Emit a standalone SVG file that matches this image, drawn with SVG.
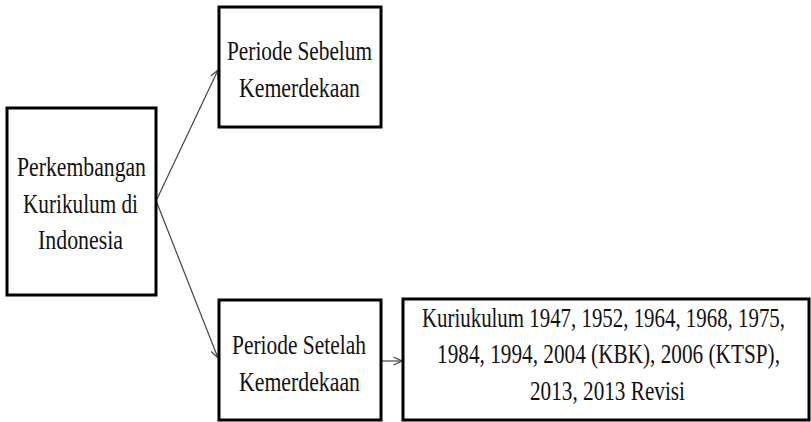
<svg xmlns="http://www.w3.org/2000/svg" width="811" height="422" viewBox="0 0 811 422">
<style>
.box{fill:#fff;stroke:#000;stroke-width:3}
.t{font-family:"Liberation Serif","Times New Roman",serif;font-size:28px;fill:#111}
.c{fill:none;stroke:#444;stroke-width:1.2}
</style>
<defs>
<marker id="ah" viewBox="0 0 10 10" refX="9.5" refY="5" markerWidth="10" markerHeight="10" markerUnits="userSpaceOnUse" orient="auto">
<path d="M1,1 L9.5,5 L1,9" fill="none" stroke="#444" stroke-width="1.2"/>
</marker>
</defs>
<rect width="811" height="422" fill="#fff"/>
<g id="connectors">
<line class="c" x1="157" y1="199" x2="218" y2="70" marker-end="url(#ah)"/>
<line class="c" x1="157" y1="203" x2="218" y2="358" marker-end="url(#ah)"/>
<line class="c" x1="382" y1="361" x2="402" y2="361" marker-end="url(#ah)"/>
</g>
<g id="node-perkembangan">
<rect class="box" x="7" y="108" width="149" height="187"/>
<text class="t" transform="translate(17,0) scale(0.76,1)" x="0" y="176" textLength="169.7" lengthAdjust="spacingAndGlyphs">Perkembangan</text>
<text class="t" transform="translate(23,0) scale(0.76,1)" x="0" y="213" textLength="151.3" lengthAdjust="spacingAndGlyphs">Kurikulum di</text>
<text class="t" transform="translate(38,0) scale(0.76,1)" x="0" y="249" textLength="111.8" lengthAdjust="spacingAndGlyphs">Indonesia</text>
</g>
<g id="node-sebelum">
<rect class="box" x="219" y="7" width="162" height="120"/>
<text class="t" transform="translate(227,0) scale(0.76,1)" x="0" y="60" textLength="190.8" lengthAdjust="spacingAndGlyphs">Periode Sebelum</text>
<text class="t" transform="translate(239,0) scale(0.76,1)" x="0" y="97" textLength="159.2" lengthAdjust="spacingAndGlyphs">Kemerdekaan</text>
</g>
<g id="node-setelah">
<rect class="box" x="219" y="300" width="162" height="120"/>
<text class="t" transform="translate(232,0) scale(0.76,1)" x="0" y="354" textLength="176.3" lengthAdjust="spacingAndGlyphs">Periode Setelah</text>
<text class="t" transform="translate(239,0) scale(0.76,1)" x="0" y="391" textLength="159.2" lengthAdjust="spacingAndGlyphs">Kemerdekaan</text>
</g>
<g id="node-kurikulum">
<rect class="box" x="403" y="299" width="406" height="121"/>
<text class="t" transform="translate(422,0) scale(0.76,1)" x="0" y="327" textLength="477.6" lengthAdjust="spacingAndGlyphs">Kuriukulum 1947, 1952, 1964, 1968, 1975,</text>
<text class="t" transform="translate(437,0) scale(0.76,1)" x="0" y="363" textLength="451.3" lengthAdjust="spacingAndGlyphs">1984, 1994, 2004 (KBK), 2006 (KTSP),</text>
<text class="t" transform="translate(530,0) scale(0.76,1)" x="0" y="400" textLength="203.9" lengthAdjust="spacingAndGlyphs">2013, 2013 Revisi</text>
</g>
</svg>
